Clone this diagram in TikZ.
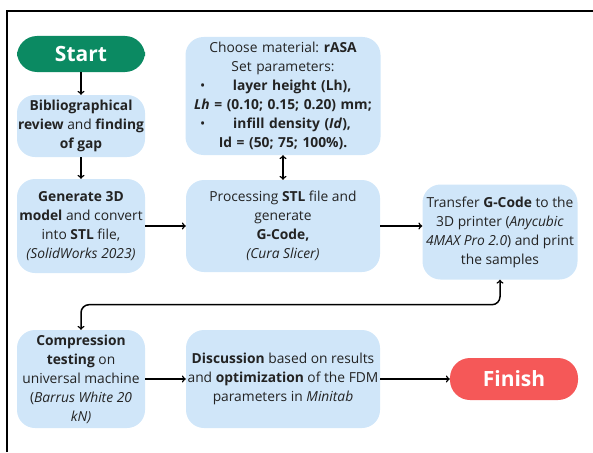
\documentclass[tikz,border=0pt]{standalone}
\usepackage{fontspec}
\setmainfont{Open Sans}
\frenchspacing
\definecolor{boxblue}{HTML}{D0E6F9}
\definecolor{startgreen}{HTML}{0B8A62}
\definecolor{finishred}{HTML}{F55858}
\definecolor{textgray}{HTML}{232323}
\tikzset{
  stepbox/.style={rectangle, rounded corners=18pt, fill=boxblue, text=textgray, align=center, inner sep=1pt, font=\fontsize{13.8}{19}\selectfont},
  endbox/.style={rectangle, rounded corners=20pt, text=white, minimum width=128pt, font=\fontsize{21}{24}\selectfont\bfseries},
  flow/.style={->, line width=1.5pt, black}
}
\begin{document}
\begin{tikzpicture}[x=1pt, y=-1pt]
\useasboundingbox (0,0) rectangle (593,452);
\draw[line width=1.6pt] (7,452) -- (7,11) -- (593,11);

\node[endbox, fill=startgreen, minimum height=36pt] (start) at (81,54) {Start};
\node[stepbox, minimum width=128pt, minimum height=62pt] (biblio) at (81,126)
  {\textbf{Bibliographical}\\\textbf{review} and \textbf{finding}\\\textbf{of gap}};
\node[stepbox, minimum width=128pt, minimum height=94pt] (generate) at (81,226)
  {\textbf{Generate 3D}\\\textbf{model} and convert\\into \textbf{STL} file,\\\textit{(SolidWorks 2023)}};
\node[stepbox, minimum width=128pt, minimum height=98pt] (compression) at (81,379)
  {\textbf{Compression}\\\textbf{testing} on\\universal machine\\(\textit{Barrus White 20}\\\textit{kN)}};

\node[stepbox, minimum width=195pt, minimum height=118pt, text width=192pt] (material) at (283,96)
  {Choose material: \textbf{rASA}\\Set parameters:\\
   \makebox[192pt]{\hspace{13pt}\textbullet\hfill\textbf{layer height (Lh),}\hfill}\\
   \textbf{\textit{Lh} = (0.10; 0.15; 0.20) mm;}\\
   \makebox[192pt]{\hspace{13pt}\textbullet\hfill\textbf{infill density (\textit{Id}),}\hfill}\\
   \textbf{Id = (50; 75; 100\%).}};
\node[stepbox, minimum width=194pt, minimum height=92pt] (processing) at (283,226)
  {Processing \textbf{STL} file and\\generate\\\textbf{G-Code,}\\\textit{(Cura Slicer)}};
\node[stepbox, minimum width=194pt, minimum height=98pt] (discussion) at (283,379)
  {\textbf{Discussion} based on results\\and \textbf{optimization} of the FDM\\parameters in \textit{Minitab}};

\node[stepbox, minimum width=155pt, minimum height=95pt] (transfer) at (500,232)
  {Transfer \textbf{G-Code} to the\\3D printer (\textit{Anycubic}\\\textit{4MAX Pro 2.0}) and print\\the samples};
\node[endbox, fill=finishred, minimum height=42pt] (finish) at (514,379) {Finish};

% connectors
\foreach \a/\b in {start/biblio, biblio/generate, generate/processing, compression/discussion, discussion/finish}
\draw[flow] (\a) -- (\b);
\draw[flow] (processing.east) -- (processing.east -| transfer.west);
\draw[flow, <->] (material) -- (processing);
\draw[flow, <->, rounded corners=8pt] (transfer.south) -- ++(0,25) -| (compression.north);
\end{tikzpicture}
\end{document}
